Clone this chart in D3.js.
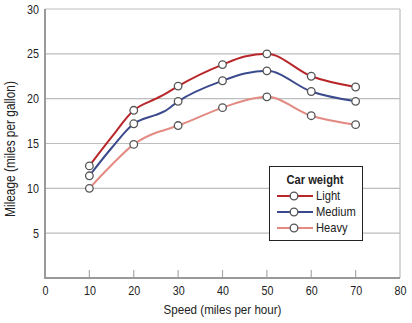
<!DOCTYPE html>
<html><head><meta charset="utf-8">
<script src="https://cdn.jsdelivr.net/npm/d3@7"></script>
<style>
body{margin:0;background:#fff;}
svg text{font-family:"Liberation Sans",Arial,sans-serif;fill:#222;}
</style></head>
<body><svg id="c" width="412" height="323"></svg>
<script>
// Marked data points
const speeds = [10, 20, 30, 40, 50, 60, 70];
const light  = [12.5, 18.7, 21.4, 23.8, 25.0, 22.5, 21.3];
const medium = [11.4, 17.2, 19.7, 22.0, 23.1, 20.8, 19.7];
const heavy  = [10.0, 14.9, 17.0, 19.0, 20.2, 18.1, 17.1];
// Unmarked intermediate readings along the drawn curves
const extraSpeeds = [15, 25, 27, 45];
const lightExtra  = [15.7, 20.0, 20.5, 24.7];
const mediumExtra = [14.5, 18.2, 18.6, 22.8];
const heavyExtra  = [12.6, 16.2, 16.5, 19.8];
const seriesNames = ["Light", "Medium", "Heavy"];
const seriesColors = ["#b8262a", "#3b4a8c", "#e38a82"];
const xTicks = [0, 10, 20, 30, 40, 50, 60, 70, 80];
const yTicks = [5, 10, 15, 20, 25, 30];

const SX = 0.86; // horizontal condensing to mimic a narrow typeface
const svg = d3.select("#c");
const m = {l:45, r:12, t:9, b:45};
const W = 412, H = 323;
const x = d3.scaleLinear().domain([0, 80]).range([m.l, W - m.r]);
const y = d3.scaleLinear().domain([0, 30]).range([H - m.b, m.t]);

function narrowText(sel, px, py) {
  sel.attr("x", px / SX).attr("y", py).attr("transform", `scale(${SX},1)`);
}

// gridlines
svg.append("g").selectAll("line").data(yTicks).join("line")
  .attr("x1", x(0)).attr("x2", x(80)).attr("y1", d => y(d)).attr("y2", d => y(d))
  .attr("stroke", "#bdbdbd").attr("stroke-width", 1.2);
svg.append("line").attr("x1", x(80)).attr("x2", x(80)).attr("y1", y(30)).attr("y2", y(0))
  .attr("stroke", "#bdbdbd").attr("stroke-width", 1.2);

// x axis
const xa = svg.append("g").attr("transform", `translate(0,${y(0)})`)
  .call(d3.axisBottom(x).tickValues(xTicks).tickSize(0).tickPadding(8));
xa.selectAll("text").attr("font-size", 12.5).style("font-family", null)
  .attr("transform", `scale(${SX},1)`);
svg.append("g").selectAll("line").data(xTicks.filter(d => d > 0 && d < 80)).join("line")
  .attr("x1", d => x(d)).attr("x2", d => x(d)).attr("y1", y(0)).attr("y2", y(0) - 8)
  .attr("stroke", "#aaa").attr("stroke-width", 1.2);

// y axis
const ya = svg.append("g").attr("transform", `translate(${x(0)},0)`)
  .call(d3.axisLeft(y).tickValues(yTicks).tickSize(0).tickPadding(6));
ya.selectAll("text").attr("font-size", 12.5).style("font-family", null)
  .attr("x", -6 / SX).attr("transform", `scale(${SX},1)`);
svg.selectAll(".domain").remove();
svg.append("line").attr("x1", x(0)).attr("x2", x(0)).attr("y1", y(30)).attr("y2", y(0) + 1)
  .attr("stroke", "#999").attr("stroke-width", 2);
svg.append("line").attr("x1", x(0) - 1).attr("x2", x(80)).attr("y1", y(0)).attr("y2", y(0))
  .attr("stroke", "#999").attr("stroke-width", 2);

// axis titles
svg.append("text").attr("text-anchor", "middle").attr("font-size", 13.5)
  .text("Speed (miles per hour)").call(narrowText, (x(0) + x(80)) / 2, 314);
svg.append("g").attr("transform", `translate(15,149) rotate(-90)`)
  .append("text").attr("text-anchor", "middle").attr("font-size", 13.8)
  .attr("x", 0).attr("y", 0).attr("transform", `scale(${SX},1)`)
  .text("Mileage (miles per gallon)");

// series
const all = [[light, lightExtra], [medium, mediumExtra], [heavy, heavyExtra]];
const line = d3.line().x(d => x(d[0])).y(d => y(d[1])).curve(d3.curveMonotoneX);
all.forEach(([vals, extra], i) => {
  const pts = speeds.map((s, j) => [s, vals[j]])
    .concat(extraSpeeds.map((s, j) => [s, extra[j]]))
    .sort((a, b) => a[0] - b[0]);
  svg.append("path").attr("d", line(pts)).attr("fill", "none")
    .attr("stroke", seriesColors[i]).attr("stroke-width", 2);
});
all.forEach(([vals], i) => {
  svg.append("g").selectAll("circle").data(speeds).join("circle")
    .attr("cx", d => x(d)).attr("cy", (d, j) => y(vals[j])).attr("r", 3.8)
    .attr("fill", "#fff").attr("stroke", "#555").attr("stroke-width", 1.3);
});

// legend
const lg = svg.append("g");
lg.append("rect").attr("x", 269.5).attr("y", 166.5).attr("width", 93).attr("height", 74)
  .attr("fill", "#fff").attr("stroke", "#222").attr("stroke-width", 1);
lg.append("text").attr("text-anchor", "middle").attr("font-size", 13)
  .attr("font-weight", "bold").text("Car weight").call(narrowText, 315, 184);
seriesNames.forEach((n, i) => {
  const yy = 196 + i * 16;
  lg.append("line").attr("x1", 277).attr("x2", 313).attr("y1", yy).attr("y2", yy)
    .attr("stroke", seriesColors[i]).attr("stroke-width", 2);
  lg.append("circle").attr("cx", 294).attr("cy", yy).attr("r", 3.8)
    .attr("fill", "#fff").attr("stroke", "#555").attr("stroke-width", 1.3);
  lg.append("text").attr("font-size", 13).text(n).call(narrowText, 316, yy + 4.5);
});
</script></body></html>
